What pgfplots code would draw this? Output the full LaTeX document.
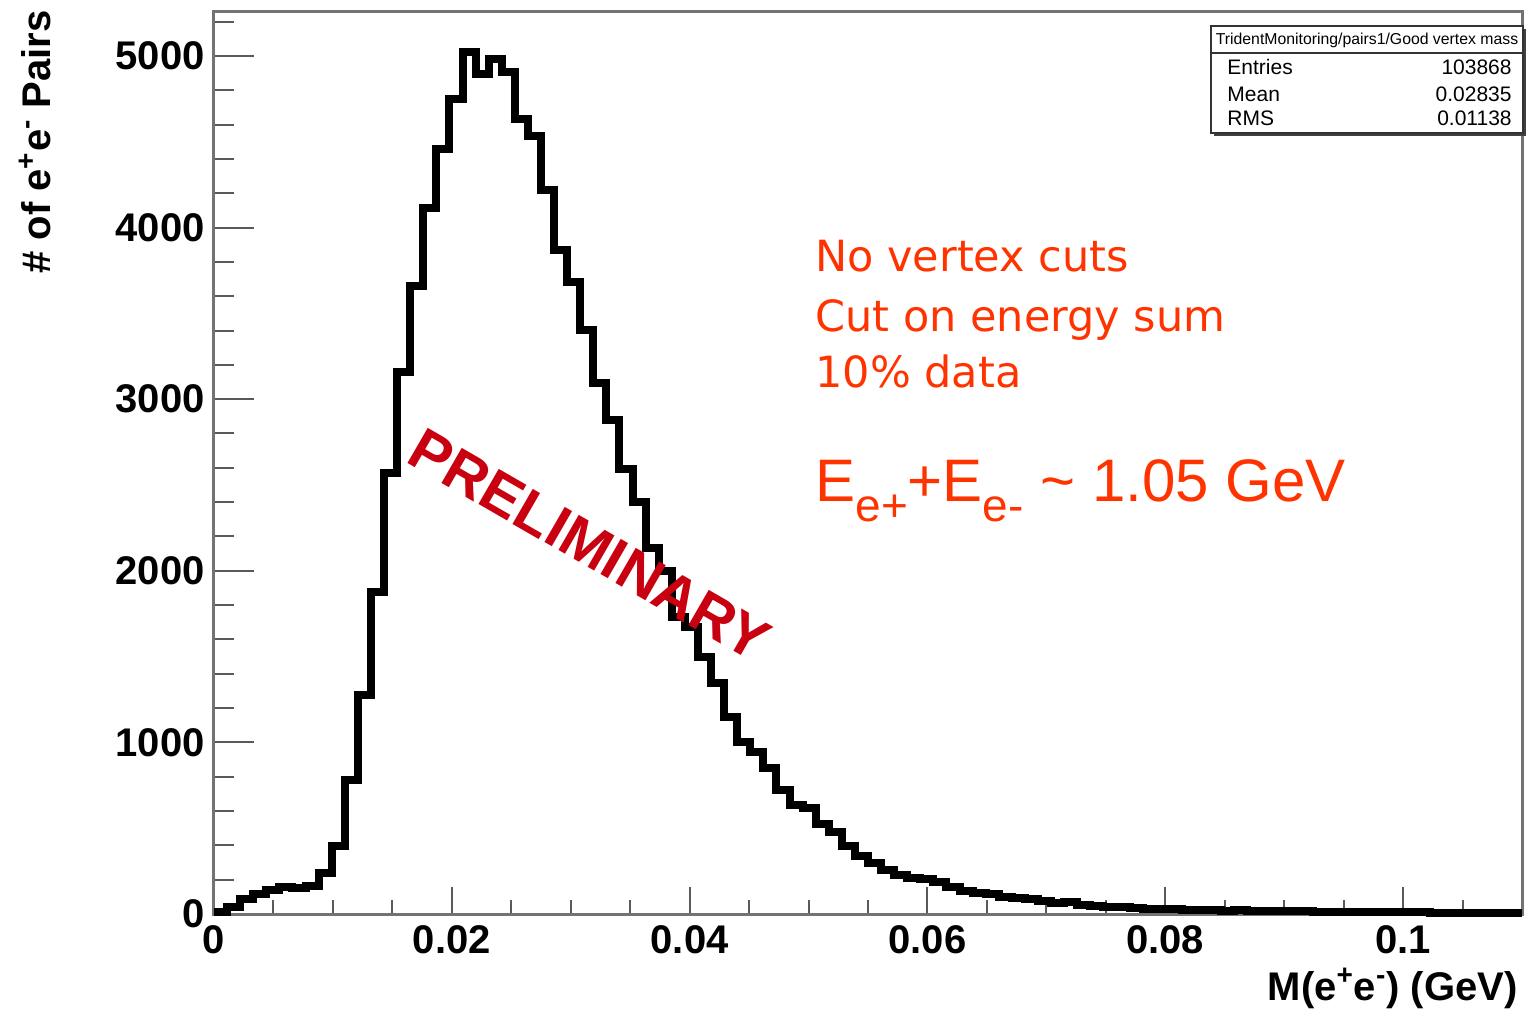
\documentclass[border=0pt]{standalone}
\usepackage{fontspec}
\setmainfont{Liberation Sans}
\newfontfamily\dejavu{DejaVu Sans}
\usepackage{pgfplots}
\pgfplotsset{compat=1.18}
\usepackage{pgfplotstable}
\definecolor{annot}{RGB}{255,51,0}
\definecolor{prelim}{RGB}{200,0,15}
\definecolor{framegray}{RGB}{115,115,115}
\definecolor{tickgray}{RGB}{90,90,90}

\pgfplotstableread{
x y
0 12
0.0011 40
0.0022 90
0.0033 115
0.0044 140
0.0055 160
0.0066 150
0.0077 165
0.0088 240
0.0099 395
0.011 780
0.0121 1275
0.0132 1875
0.0143 2570
0.0154 3160
0.0165 3657
0.0176 4112
0.0187 4457
0.0198 4749
0.0209 5023
0.022 4895
0.0231 4982
0.0242 4906
0.0253 4632
0.0264 4533
0.0275 4220
0.0286 3870
0.0297 3680
0.0308 3405
0.0319 3092
0.033 2881
0.0341 2591
0.0352 2400
0.0363 2130
0.0374 2000
0.0385 1730
0.0396 1670
0.0407 1495
0.0418 1345
0.0429 1150
0.044 1005
0.0451 945
0.0462 850
0.0473 722
0.0484 635
0.0495 618
0.0506 525
0.0517 480
0.0528 395
0.0539 340
0.055 300
0.0561 255
0.0572 225
0.0583 212
0.0594 205
0.0605 185
0.0616 160
0.0627 135
0.0638 120
0.0649 115
0.066 100
0.0671 95
0.0682 85
0.0693 78
0.0704 65
0.0715 68
0.0726 55
0.0737 48
0.0748 42
0.0759 38
0.077 35
0.0781 32
0.0792 30
0.0803 28
0.0814 25
0.0825 24
0.0836 22
0.0847 20
0.0858 22
0.0869 18
0.088 17
0.0891 16
0.0902 15
0.0913 16
0.0924 14
0.0935 13
0.0946 12
0.0957 12
0.0968 11
0.0979 10
0.099 10
0.1001 9
0.1012 9
0.1023 8
0.1034 8
0.1045 7
0.1056 7
0.1067 6
0.1078 6
0.1089 8
0.11 8
}\histdata

\begin{document}
\begin{tikzpicture}
\useasboundingbox (-107pt,-47pt) rectangle (656pt,457pt);
\begin{axis}[
  at={(0pt,0pt)}, anchor=south west,
  width=654pt, height=451pt, scale only axis,
  xmin=0, xmax=0.11, ymin=0, ymax=5256,
  clip=false,
  axis line style={draw=framegray, line width=1.5pt},
  xtick={0,0.02,0.04,0.06,0.08,0.1},
  xticklabels={0,0.02,0.04,0.06,0.08,0.1},
  ytick={0,1000,2000,3000,4000,5000},
  yticklabels={0,1000,2000,3000,4000,5000},
  minor xtick={0.005,0.01,0.015,0.025,0.03,0.035,0.045,0.05,0.055,0.065,0.07,0.075,0.085,0.09,0.095,0.105},
  minor ytick={200,400,600,800,1200,1400,1600,1800,2200,2400,2600,2800,3200,3400,3600,3800,4200,4400,4600,4800,5200},
  xtick pos=left, ytick pos=left,
  tick align=inside,
  tick style={draw=tickgray, line width=1pt},
  xtick style={/pgfplots/major tick length=13.5pt, /pgfplots/minor tick length=7pt},
  ytick style={/pgfplots/major tick length=20pt, /pgfplots/minor tick length=10pt},
  ticklabel style={font=\bfseries\fontsize{20}{20}\selectfont, inner sep=0pt},
  xticklabel style={yshift=-5.5pt},
  yticklabel style={xshift=-4.5pt},
]
\addplot[const plot, black, line width=4pt, line join=miter] table[x=x,y=y]{\histdata};
\end{axis}

% axis titles
\node[rotate=90, anchor=base east, inner sep=0pt, font=\bfseries\fontsize{20}{20}\selectfont]
  at (-81.5pt,452pt) {\#~of e\textsuperscript{+}e\textsuperscript{-} Pairs};
\node[anchor=base east, inner sep=0pt, font=\bfseries\fontsize{20}{20}\selectfont]
  at (652pt,-43pt) {M(e\textsuperscript{+}e\textsuperscript{-}) (GeV)};

% stats box
\fill[black!75] (500pt,389pt) rectangle (656pt,442.5pt);
\draw[fill=white, draw=black!80, line width=0.8pt] (498.5pt,390.5pt) rectangle (654.5pt,444pt);
\draw[black!80, line width=0.8pt] (498.5pt,430.5pt) -- (654.5pt,430.5pt);
\node[inner sep=0pt, font=\fontsize{7.9}{8}\selectfont] at (576.5pt,437pt) {TridentMonitoring/pairs1/Good vertex mass};
\node[anchor=west, inner sep=0pt, font=\fontsize{10.5}{11}\selectfont] at (506.5pt,423.5pt) {Entries};
\node[anchor=east, inner sep=0pt, font=\fontsize{10.5}{11}\selectfont] at (649pt,423.5pt) {103868};
\node[anchor=west, inner sep=0pt, font=\fontsize{10.5}{11}\selectfont] at (506.5pt,410pt) {Mean};
\node[anchor=east, inner sep=0pt, font=\fontsize{10.5}{11}\selectfont] at (649pt,410pt) {0.02835};
\node[anchor=west, inner sep=0pt, font=\fontsize{10.5}{11}\selectfont] at (506.5pt,398pt) {RMS};
\node[anchor=east, inner sep=0pt, font=\fontsize{10.5}{11}\selectfont] at (649pt,398pt) {0.01138};

% red annotations
\node[anchor=base west, inner sep=0pt, text=annot, font=\dejavu\fontsize{21.5}{21.5}\selectfont] at (300.5pt,321pt) {No vertex cuts};
\node[anchor=base west, inner sep=0pt, text=annot, font=\dejavu\fontsize{21.5}{21.5}\selectfont] at (300.5pt,291pt) {Cut on energy sum};
\node[anchor=base west, inner sep=0pt, text=annot, font=\dejavu\fontsize{21.5}{21.5}\selectfont] at (300.5pt,263pt) {10\% data};
\node[anchor=base west, inner sep=0pt, text=annot, font=\fontsize{30}{31}\selectfont] at (300.5pt,206.5pt)
  {E{\fontsize{23}{23}\selectfont\raisebox{-10pt}{e+}}+E{\fontsize{23}{23}\selectfont\raisebox{-10pt}{e-}} \textasciitilde\ 1.05 GeV};

% preliminary
\node[rotate=-30, inner sep=0pt, text=prelim, font=\bfseries\fontsize{29.5}{29.5}\selectfont] at (188pt,184.5pt) {PRELIMINARY};
\end{tikzpicture}
\end{document}
